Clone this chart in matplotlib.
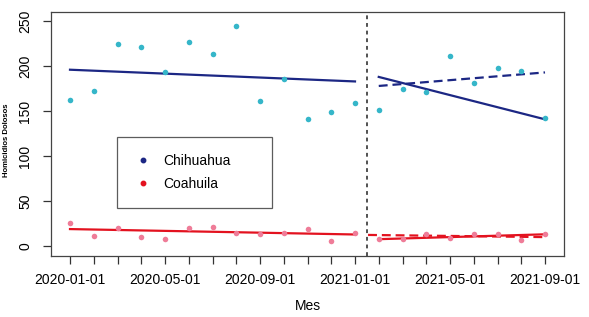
import matplotlib
matplotlib.use("Agg")
import matplotlib.pyplot as plt
import numpy as np
from matplotlib.lines import Line2D

plt.rcParams['font.family'] = ['Liberation Sans', 'DejaVu Sans']

months = ['2020-01-01', '2020-02-01', '2020-03-01', '2020-04-01', '2020-05-01',
          '2020-06-01', '2020-07-01', '2020-08-01', '2020-09-01', '2020-10-01',
          '2020-11-01', '2020-12-01', '2021-01-01', '2021-02-01', '2021-03-01',
          '2021-04-01', '2021-05-01', '2021-06-01', '2021-07-01', '2021-08-01',
          '2021-09-01']
chihuahua = [162, 172, 224, 221, 194, 227, 213, 244, 161, 186, 141, 149, 159,
             151, 175, 171, 211, 181, 198, 195, 142]
coahuila = [25.5, 11.5, 20.5, 10.3, 8.1, 20.4, 21.3, 15.3, 13.4, 14.8, 19.6, 6.4, 14.4,
            8.1, 8.1, 14, 9.4, 13.4, 13.4, 7.4, 13.5]

# fitted segments (model output): [start idx, end idx], [start val, end val]
chi_pre_x, chi_pre_y = [0, 12], [196, 183]
chi_post_x, chi_post_y = [13, 20], [188, 141]
chi_cf_x, chi_cf_y = [13, 20], [178, 193]
coa_pre_x, coa_pre_y = [0, 12], [19.3, 13.3]
coa_post_x, coa_post_y = [13, 20], [8.1, 13.5]
coa_cf_x, coa_cf_y = [12.55, 20], [12.8, 10.4]
intervention = 12.5

W, H = 589, 317
fig = plt.figure(figsize=(W / 100, H / 100), dpi=100)
ax = fig.add_axes([51 / W, (H - 255.5) / H, (564 - 51) / W, (255.5 - 12) / H])

x = np.arange(len(months))
navy = '#1c2784'
red = '#e3121f'
teal = '#35b6c9'
pink = '#ef7c98'

ax.plot(x, chihuahua, 'o', color=teal, ms=4.0, mec='none', zorder=3)
ax.plot(x, coahuila, 'o', color=pink, ms=4.0, mec='none', zorder=3)

ax.plot(chi_pre_x, chi_pre_y, color=navy, lw=1.6)
ax.plot(chi_post_x, chi_post_y, color=navy, lw=1.6)
ax.plot(chi_cf_x, chi_cf_y, color=navy, lw=1.6, dashes=(4, 2.2))
ax.plot(coa_pre_x, coa_pre_y, color=red, lw=1.6)
ax.plot(coa_post_x, coa_post_y, color=red, lw=1.6)
ax.plot(coa_cf_x, coa_cf_y, color=red, lw=1.6, dashes=(4, 2.2))

ax.axvline(intervention, color='#222222', lw=1.1, dashes=(2.5, 2.5))

ax.set_xlim(-0.8, 20.8)
ax.set_ylim(-10, 260)

ax.set_xticks(x)
ax.set_xticklabels([m if i % 4 == 0 else '' for i, m in enumerate(months)], fontsize=10)
ax.set_yticks([0, 50, 100, 150, 200, 250])
ax.set_yticklabels(['0', '50', '100', '150', '200', '250'], fontsize=10, rotation=90, va='center')
ax.tick_params(axis='both', direction='out', length=5.5, width=0.9, color='#333333')
ax.tick_params(axis='x', pad=7)
ax.tick_params(axis='y', pad=8)
for s in ax.spines.values():
    s.set_color('#444444')
    s.set_linewidth(0.9)

ax.set_xlabel('Mes', fontsize=10, va='center')
ax.xaxis.set_label_coords(0.5, (255.5 - 306) / (255.5 - 12))
fig.text(7 / W, 1 - 140 / H, 'Homicidios Dolosos', rotation=90, fontsize=5.6,
         fontweight='bold', ha='center', va='center')

# legend
handles = [Line2D([], [], marker='o', ls='none', color=navy, ms=3.2),
           Line2D([], [], marker='o', ls='none', color=red, ms=3.2)]
leg = ax.legend(handles, ['Chihuahua', 'Coahuila'], loc='lower left',
                bbox_to_anchor=((117 - 51) / (564 - 51), (255.5 - 208) / (255.5 - 12),
                                (272 - 117) / (564 - 51), (208 - 138) / (255.5 - 12)),
                mode='expand', borderaxespad=0, fontsize=10, frameon=True, fancybox=False,
                handletextpad=0.9, borderpad=1.25, labelspacing=0.6, handlelength=1.2)
leg.get_frame().set_edgecolor('#333333')
leg.get_frame().set_linewidth(0.9)

fig.savefig('out.png', dpi=100)
